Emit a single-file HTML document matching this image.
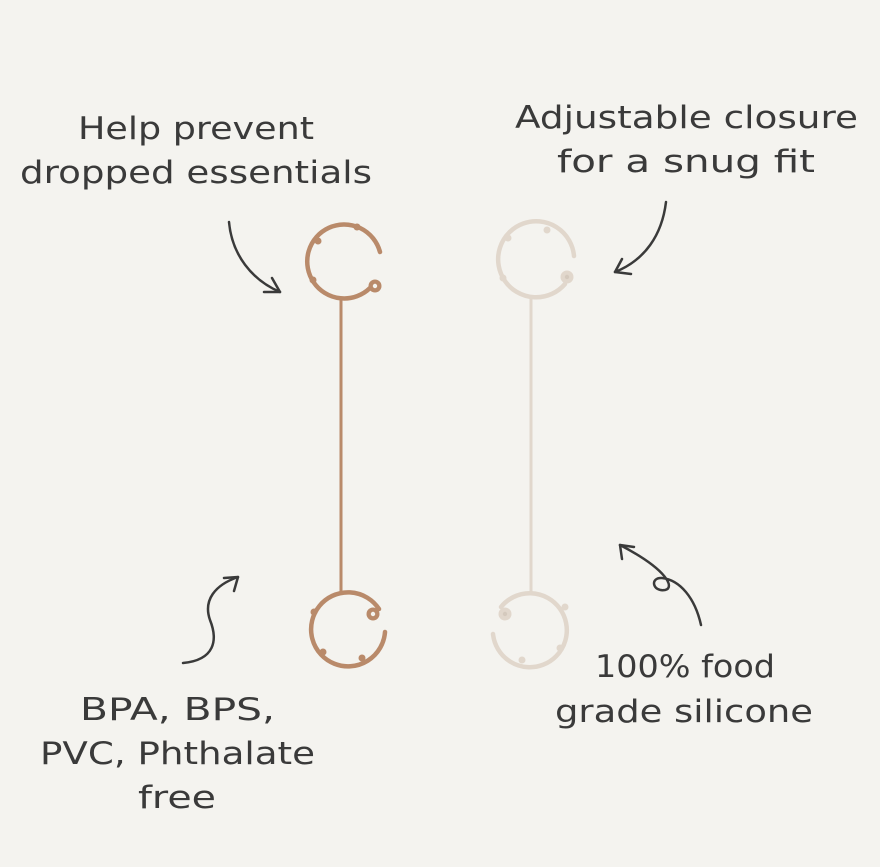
<!DOCTYPE html>
<html><head><meta charset="utf-8"><style>
html,body{margin:0;padding:0;background:#f4f3ef;}
svg{display:block}
text{font-family:"DejaVu Sans","Liberation Sans",sans-serif;fill:#3a3a3a;font-size:31px;}
</style></head><body>
<svg width="880" height="867" viewBox="0 0 880 867">
<rect width="880" height="867" fill="#f4f3ef"/>
<g>
<text x="78" y="139" textLength="236" lengthAdjust="spacingAndGlyphs">Help prevent</text>
<text x="20" y="183" textLength="352" lengthAdjust="spacingAndGlyphs">dropped essentials</text>
<text x="515" y="128" textLength="343" lengthAdjust="spacingAndGlyphs">Adjustable closure</text>
<text x="557" y="172" textLength="258" lengthAdjust="spacingAndGlyphs">for a snug fit</text>
<text x="595" y="677" textLength="180" lengthAdjust="spacingAndGlyphs">100% food</text>
<text x="555" y="722" textLength="258" lengthAdjust="spacingAndGlyphs">grade silicone</text>
<text x="80" y="720" textLength="195" lengthAdjust="spacingAndGlyphs">BPA, BPS,</text>
<text x="40" y="764" textLength="275" lengthAdjust="spacingAndGlyphs">PVC, Phthalate</text>
<text x="138" y="808" textLength="78" lengthAdjust="spacingAndGlyphs">free</text>
</g>
<g fill="none" stroke="#3a3a3a" stroke-width="2.5" stroke-linecap="round" stroke-linejoin="round">
<path d="M229 222 C232 255 252 280 280 292"/><path d="M264 292 L280 292 L272 278"/>
<path d="M666 202 C662 235 645 260 615 272"/><path d="M622 259 L615 272 L631 274"/>
<path d="M183 663 C215 660 218 640 210 620 C203 600 215 585 238 577"/><path d="M224 578 L238 577 L234 591"/>
<path d="M701 625 C695 598 680 580 662 578 C650 577 652 592 665 590 C675 588 668 570 620 545"/><path d="M622 559 L620 545 L634 547"/>
</g>
<!-- left strap -->
<g fill="none" stroke="#b98a6a" stroke-width="4.5" stroke-linecap="round">
<path d="M380 252 A37 37 0 1 0 370 288"/>
<path d="M341 299 L341 592" stroke-width="3"/>
<path d="M385 632 A37 37 0 1 1 379 609"/>
</g>
<g fill="#b98a6a">
<circle cx="357" cy="227" r="3.5"/><circle cx="318" cy="241" r="3.5"/><circle cx="313" cy="280" r="3.5"/>
<circle cx="375" cy="286" r="6.5"/><circle cx="375" cy="286" r="2.2" fill="#f4f3ef"/>
<circle cx="314" cy="612" r="3.5"/><circle cx="323" cy="652" r="3.5"/><circle cx="362" cy="658" r="3.5"/>
<circle cx="373" cy="614" r="6.5"/><circle cx="373" cy="614" r="2.2" fill="#f4f3ef"/>
</g>
<!-- right strap -->
<g fill="none" stroke="#e1d7cc" stroke-width="4.5" stroke-linecap="round">
<path d="M574 256 A38 38 0 1 0 565 284"/>
<path d="M531 299 L531 592" stroke-width="3"/>
<path d="M493 634 A37 37 0 1 0 501 607"/>
</g>
<g fill="#e1d7cc">
<circle cx="547" cy="230" r="3.5"/><circle cx="508" cy="238" r="3.5"/><circle cx="503" cy="278" r="3.5"/>
<circle cx="567" cy="277" r="6.5"/><circle cx="567" cy="277" r="2.2" fill="#d4c9bd"/>
<circle cx="565" cy="607" r="3.5"/><circle cx="560" cy="648" r="3.5"/><circle cx="522" cy="660" r="3.5"/>
<circle cx="505" cy="614" r="6.5"/><circle cx="505" cy="614" r="2.2" fill="#d4c9bd"/>
</g>
</svg>
</body></html>
